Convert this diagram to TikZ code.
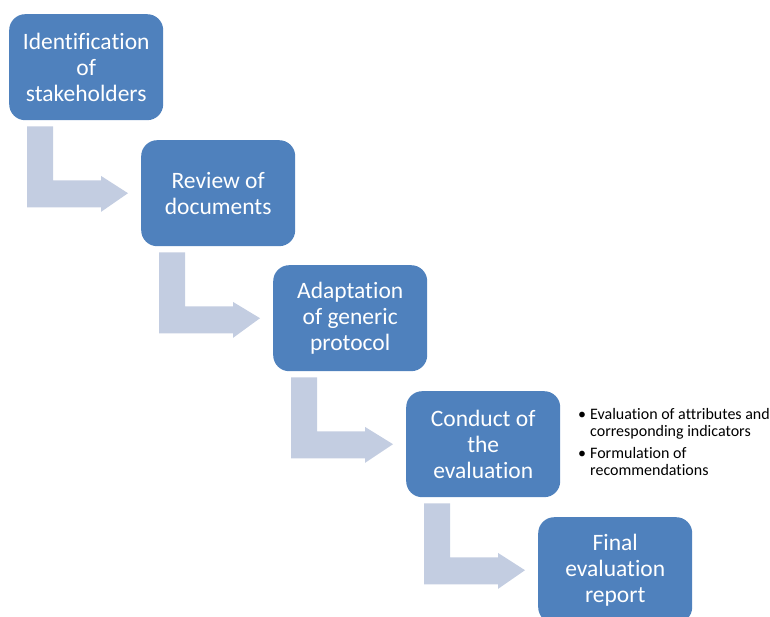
\documentclass[tikz,border=0pt]{standalone}
\usepackage{fontspec}
\setmainfont[Ligatures=NoCommon]{Carlito}
\usetikzlibrary{calc}
\definecolor{boxblue}{HTML}{4F81BD}
\definecolor{arrowblue}{HTML}{C3CDE1}
\newcommand\bentarrow[2]{%
  \fill[bentarrowstyle]
    ($(#1.south west)+(18,6)$) -- ($(#1.south west)+(44,6)$) --
    ($(#1.south west)+(44,60)$) -- ($(#1.south west)+(92,60)$) --
    ($(#1.south west)+(92,55.5)$) -- ($(#2.west)+(-13,0)$) --
    ($(#1.south west)+(92,91.5)$) -- ($(#1.south west)+(92,87)$) --
    ($(#1.south west)+(18,87)$) -- cycle;}
\begin{document}
\begin{tikzpicture}[x=1pt,y=-1pt,
  stepbox/.style={fill=boxblue, rounded corners=16pt, minimum width=154pt,
    minimum height=106pt, align=center, text=white,
    font=\fontsize{23.5}{26}\selectfont, inner sep=0pt, anchor=north west},
  bentarrowstyle/.style={fill=arrowblue},
  notes/.style={inner sep=0pt, anchor=base west, font=\fontsize{16}{17}\selectfont}]
\useasboundingbox (0,0) rectangle (770,617);
\clip (0,0) rectangle (770,617);
\node[stepbox] (b1) at (9,14) {Identification\\of\\stakeholders};
\node[stepbox] (b2) at (141,140) {Review of\\documents};
\node[stepbox] (b3) at (273,265) {Adaptation\\of generic\\protocol};
\node[stepbox] (b4) at (406,391) {Conduct of\\the\\evaluation};
\node[stepbox] (b5) at (538,517) {Final\\evaluation\\report};
\bentarrow{b1}{b2}
\bentarrow{b2}{b3}
\bentarrow{b3}{b4}
\bentarrow{b4}{b5}
\node[notes] (n) at (578,419) {\begin{tabular}[t]{@{}l@{\hspace{4pt}}l@{}}
\textbullet & Evaluation of attributes and\\
 & corresponding indicators\\[5pt]
\textbullet & Formulation of\\
 & recommendations
\end{tabular}};
\end{tikzpicture}
\end{document}
